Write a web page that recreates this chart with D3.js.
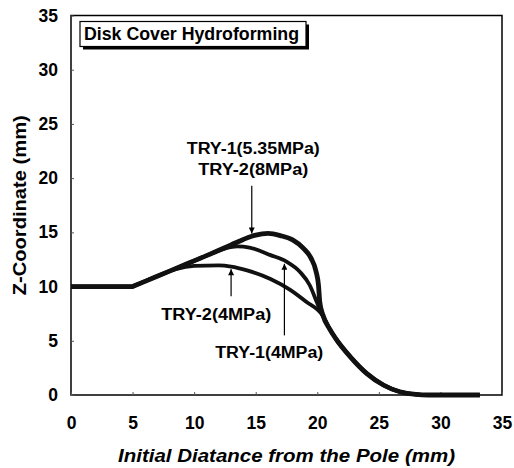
<!DOCTYPE html>
<html>
<head>
<meta charset="utf-8">
<script src="https://cdn.jsdelivr.net/npm/d3@7"></script>
<style>
  body { margin: 0; background: #fff; }
  text { font-family: "Liberation Sans", Arial, sans-serif; font-weight: bold; fill: #000; }
</style>
</head>
<body>
<div id="chart"></div>
<script>
// -------- data ------------------------------ //

var xTicks = [0, 5, 10, 15, 20, 25, 30, 35];
var yTicks = [0, 5, 10, 15, 20, 25, 30, 35];

// flat start (drawn straight), then each curve starts its smooth part at the kink
var flatPts = [[0, 10], [5, 10]];
var tailPts = [[21, 6.1], [21.5, 5.2], [22.7, 3.5], [24, 2.0], [25.4, 0.9], [26.7, 0.3], [28, 0.05], [29, 0], [33.2, 0]];

// TRY-1(5.35MPa) / TRY-2(8MPa) - the two coincide
var try1High = [[5, 10], [7, 10.95], [9, 11.9], [11, 12.85], [13, 13.85], [14, 14.35], [15, 14.75], [16, 14.9], [17, 14.7], [18, 14.3],
  [18.9, 13.5], [19.5, 12.6], [19.9, 11.4], [20.1, 10.1], [20.2, 8.6], [20.45, 7.4]];
// TRY-1(4MPa)
var try1Low = [[5, 10], [7, 10.95], [9, 11.9], [11, 12.85], [12.5, 13.5], [13.5, 13.7], [14.5, 13.6], [16.2, 12.9], [17.5, 12.3],
  [18.6, 11.35], [19.4, 10.1], [19.95, 8.6], [20.45, 7.3]];
// TRY-2(4MPa)
var try2Low = [[5, 10], [7, 10.95], [8.5, 11.6], [10, 11.9], [12, 11.95], [13, 11.85], [14.3, 11.5], [16.2, 10.7], [17.8, 9.7],
  [19.1, 8.6], [20.45, 7.3]];

var seriesNames = ["TRY-2(4MPa)", "TRY-1(4MPa)", "TRY-1(5.35MPa)"];
var seriesPts = [try2Low, try1Low, try1High];

// annotation labels: [text, x, y, width px], arrows [x, yFrom, yTo]
var labels = [
  ["TRY-1(5.35MPa)", 14.8, 22.2, 133],
  ["TRY-2(8MPa)", 14.8, 20.3, 110],
  ["TRY-2(4MPa)", 11.8, 6.9, 110],
  ["TRY-1(4MPa)", 16.1, 3.4, 108]
];
var arrows = [
  [14.68, 19.3, 14.9],
  [13.0, 9.1, 11.6],
  [17.33, 5.5, 12.1]
];

// -------- chart ---------- //
var width = 514, height = 468;
var margin = { top: 15.5, right: 12, bottom: 73, left: 71 };

var svg = d3.select("#chart").append("svg")
  .attr("width", width).attr("height", height);

var x = d3.scaleLinear().domain([0, 35]).range([margin.left, width - margin.right]);
var y = d3.scaleLinear().domain([0, 35]).range([height - margin.bottom, margin.top]);

// frame
svg.append("rect")
  .attr("x", x(0)).attr("y", y(35))
  .attr("width", x(35) - x(0)).attr("height", y(0) - y(35))
  .attr("fill", "none").attr("stroke", "#000").attr("stroke-width", 1.5);

// axes (inward ticks)
var xAxis = svg.append("g")
  .attr("transform", "translate(0," + y(0) + ")")
  .call(d3.axisBottom(x).tickValues(xTicks).tickSize(-3).tickPadding(22));
var yAxis = svg.append("g")
  .attr("transform", "translate(" + x(0) + ",0)")
  .call(d3.axisLeft(y).tickValues(yTicks).tickSize(-3).tickPadding(13));

[xAxis, yAxis].forEach(function(g) {
  g.select(".domain").remove();
  g.selectAll("line").attr("stroke", "#555").attr("stroke-width", 1);
  g.selectAll("text").style("font-size", "17.5px").attr("fill", "#000");
});

// axis titles
svg.append("text")
  .attr("x", (x(0) + x(35)) / 2).attr("y", 462)
  .attr("text-anchor", "middle")
  .style("font-size", "18px").style("font-style", "italic")
  .attr("textLength", 337).attr("lengthAdjust", "spacingAndGlyphs")
  .text("Initial Diatance from the Pole (mm)");

svg.append("text")
  .attr("transform", "translate(26," + (y(0) + y(35)) / 2 + ") rotate(-90)")
  .attr("text-anchor", "middle")
  .style("font-size", "18px")
  .attr("textLength", 180).attr("lengthAdjust", "spacingAndGlyphs")
  .text("Z-Coordinate (mm)");

// title box with shadow
var tb = { x: 80, y: 21.5, w: 226, h: 25 };
svg.append("rect")
  .attr("x", tb.x + 3).attr("y", tb.y + 3).attr("width", tb.w).attr("height", tb.h)
  .attr("fill", "#000");
svg.append("rect")
  .attr("x", tb.x).attr("y", tb.y).attr("width", tb.w).attr("height", tb.h)
  .attr("fill", "#fff").attr("stroke", "#000").attr("stroke-width", 1.2);
svg.append("text")
  .attr("x", 84).attr("y", 40)
  .style("font-size", "17.5px")
  .attr("textLength", 215).attr("lengthAdjust", "spacingAndGlyphs")
  .text("Disk Cover Hydroforming");

// curves: straight flat part, smooth remainder
var line = d3.line()
  .x(function(d) { return x(d[0]); })
  .y(function(d) { return y(d[1]); });
var smooth = d3.line()
  .x(function(d) { return x(d[0]); })
  .y(function(d) { return y(d[1]); })
  .curve(d3.curveMonotoneX);

svg.append("g")
  .selectAll("path")
  .data(seriesPts)
  .join("path")
  .attr("class", "curve")
  .attr("d", function(d) { return line(flatPts) + smooth(d.concat(tailPts)).replace(/^M/, "L"); })
  .attr("fill", "none")
  .attr("stroke", "#111")
  .attr("stroke-width", function(d, i) { return i === 2 ? 4.8 : 3.8; })
  .attr("stroke-linejoin", "round");

// annotations
svg.append("g")
  .selectAll("text")
  .data(labels)
  .join("text")
  .attr("x", function(d) { return x(d[1]); })
  .attr("y", function(d) { return y(d[2]); })
  .attr("text-anchor", "middle")
  .style("font-size", "16px")
  .attr("textLength", function(d) { return d[3]; })
  .attr("lengthAdjust", "spacingAndGlyphs")
  .text(function(d) { return d[0]; });

svg.append("defs").append("marker")
  .attr("id", "head")
  .attr("viewBox", "0 0 10 10")
  .attr("refX", 10).attr("refY", 5)
  .attr("markerWidth", 9).attr("markerHeight", 6)
  .attr("markerUnits", "userSpaceOnUse")
  .attr("orient", "auto")
  .append("path").attr("d", "M0,0L10,5L0,10Z").attr("fill", "#000");

svg.append("g")
  .selectAll("line")
  .data(arrows)
  .join("line")
  .attr("x1", function(d) { return x(d[0]); })
  .attr("x2", function(d) { return x(d[0]); })
  .attr("y1", function(d) { return y(d[1]); })
  .attr("y2", function(d) { return y(d[2]); })
  .attr("stroke", "#000").attr("stroke-width", 1.2)
  .attr("marker-end", "url(#head)");
</script>
</body>
</html>
